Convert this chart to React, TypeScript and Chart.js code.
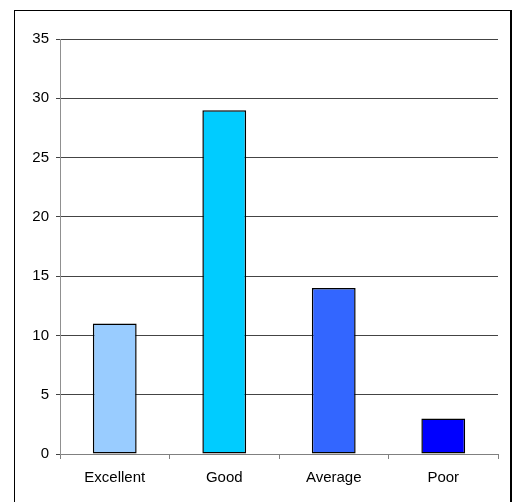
import React, { useEffect, useRef } from "react";
import { Chart, registerables } from "chart.js";

Chart.register(...registerables);

const categories = ["Excellent", "Good", "Average", "Poor"];
const responses = [11, 29, 14, 3];
const barColors = ["#99CCFF", "#00CCFF", "#3366FF", "#0000FF"];
const yTicks = { min: 0, max: 35, step: 5 };

const FONT = "'Liberation Sans', Arial, sans-serif";

export default function App() {
  const canvasRef = useRef<HTMLCanvasElement | null>(null);

  useEffect(() => {
    const canvas = canvasRef.current;
    if (!canvas) return;
    const chart = new Chart(canvas, {
      type: "bar",
      data: {
        labels: categories,
        datasets: [
          {
            data: responses,
            backgroundColor: barColors,
            borderColor: "#000000",
            borderWidth: 1.5,
            borderSkipped: false,
            barPercentage: 0.4,
            categoryPercentage: 1,
          },
        ],
      },
      options: {
        responsive: false,
        animation: false,
        devicePixelRatio: 1,
        layout: { padding: { left: 0, right: 14, top: 39, bottom: 0 } },
        plugins: {
          legend: { display: false },
          tooltip: { enabled: false },
        },
        scales: {
          x: {
            afterFit: (axis: any) => {
              axis.height = 48;
            },
            grid: {
              offset: true,
              drawOnChartArea: false,
              drawTicks: true,
              tickLength: 5,
              color: "#808080",
            },
            border: { color: "#808080", width: 1 },
            ticks: {
              color: "#000000",
              padding: 10,
              font: { family: FONT, size: 15 },
            },
          },
          y: {
            min: yTicks.min,
            max: yTicks.max,
            afterFit: (axis: any) => {
              axis.width = 60;
            },
            grid: {
              color: "#444444",
              tickLength: 4,
            },
            border: { color: "#909090", width: 1 },
            ticks: {
              stepSize: yTicks.step,
              color: "#000000",
              padding: 7,
              font: { family: FONT, size: 15 },
            },
          },
        },
      },
    });
    return () => chart.destroy();
  }, []);

  return (
    <div
      style={{
        position: "fixed",
        left: 0,
        top: 0,
        width: 512,
        height: 502,
        overflow: "hidden",
        background: "#ffffff",
      }}
    >
      <div
        style={{
          position: "absolute",
          left: 14,
          top: 10,
          width: 495,
          height: 520,
          borderLeft: "1px solid #000",
          borderTop: "1px solid #000",
          borderRight: "2px solid #000",
        }}
      />
      <canvas
        ref={canvasRef}
        width={512}
        height={502}
        style={{ position: "absolute", left: 0, top: 0, width: 512, height: 502 }}
      />
    </div>
  );
}
